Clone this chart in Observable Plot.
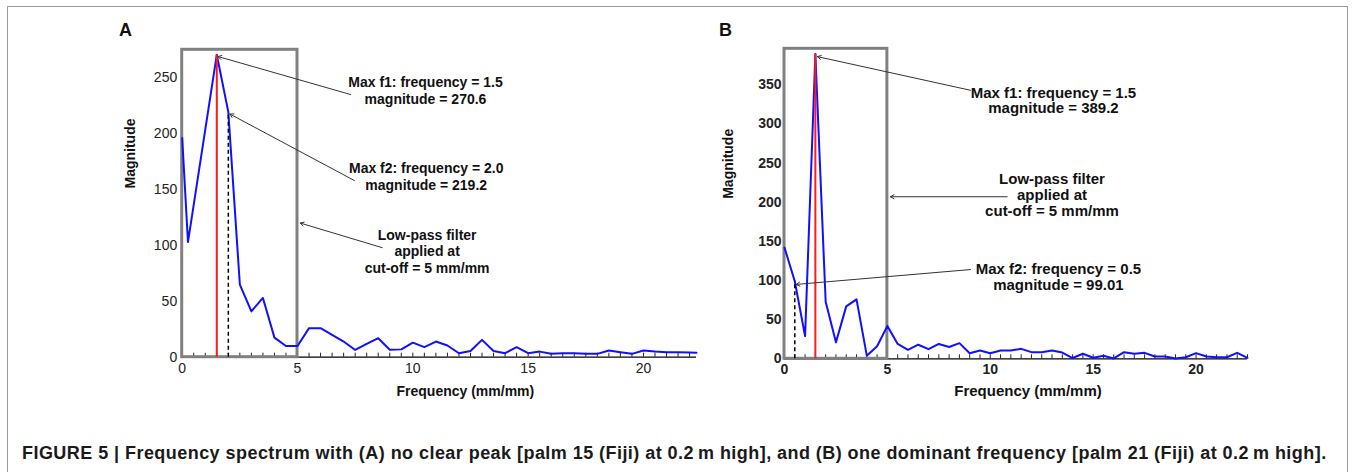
<!DOCTYPE html>
<html>
<head>
<meta charset="utf-8">
<script src="https://cdn.jsdelivr.net/npm/d3@7"></script>
<script src="https://cdn.jsdelivr.net/npm/@observablehq/plot@0.6"></script>
<style>
  body { margin: 0; background: #fff; }
  #fig { position: relative; width: 1355px; height: 472px; font-family: "Liberation Sans", Arial, sans-serif; overflow: hidden; }
  #border { position: absolute; left: 7px; top: 6px; width: 1341px; height: 470px; border: 1px solid #9a9a9a; box-sizing: border-box; }
  .panel { position: absolute; font-weight: bold; font-size: 18px; color: #111; }
  #caption { position: absolute; left: 22px; top: 443px; font-weight: bold; font-size: 18px; letter-spacing: 0.45px; color: #1a1a1a; white-space: nowrap; }
  svg { position: absolute; overflow: visible; }
</style>
</head>
<body>
<div id="fig">
  <div id="border"></div>
  <div class="panel" style="left:119px;top:20px;">A</div>
  <div class="panel" style="left:719px;top:20px;">B</div>
  <div id="caption">FIGURE 5 | Frequency spectrum with (A) no clear peak [palm 15 (Fiji) at 0.2&#8201;m high], and (B) one dominant frequency [palm 21 (Fiji) at 0.2&#8201;m high].</div>
</div>
<script>
// ---------- data ----------
const freqA = [0, 0.25, 1.5, 2.0, 2.5, 3.0, 3.5, 4.0, 4.5, 5.0, 5.5, 6.0, 6.5, 7.0, 7.5, 8.0, 8.5, 9.0, 9.5, 10.0,
  10.5, 11.0, 11.5, 12.0, 12.5, 13.0, 13.5, 14.0, 14.5, 15.0, 15.5, 16.0, 16.5, 17.0, 17.5, 18.0, 18.5, 19.0, 19.5,
  20.0, 20.5, 21.0, 21.5, 22.0, 22.3];
const magA = [196, 103, 270.6, 219.2, 65, 41, 53, 17.5, 10, 10, 26, 26, 20, 14, 6.5, 12, 17, 6.6, 7, 13,
  9, 14, 10.5, 3.5, 5.5, 15.5, 5.5, 3.6, 9, 3.6, 5, 3, 3.6, 3.6, 3, 3, 6, 4.5, 3,
  6, 5, 4.5, 4.5, 4.2, 4];

const freqB = [0, 0.5, 1.0, 1.5, 2.0, 2.5, 3.0, 3.5, 4.0, 4.5, 5.0, 5.5, 6.0, 6.5, 7.0, 7.5, 8.0, 8.5, 9.0, 9.5,
  10.0, 10.5, 11.0, 11.5, 12.0, 12.5, 13.0, 13.5, 14.0, 14.5, 15.0, 15.5, 16.0, 16.5, 17.0, 17.5, 18.0, 18.5, 19.0,
  19.5, 20.0, 20.5, 21.0, 21.5, 22.0, 22.5];
const magB = [142, 99.01, 29, 389.2, 73, 21, 67, 76, 4, 16, 42, 19, 11.5, 18, 12.3, 19, 15, 20, 7.2, 10.6,
  7.2, 10.6, 10.6, 12.7, 8.5, 8.5, 10.6, 8, 1, 6.4, 1.3, 3.8, 0.5, 8.5, 6.4, 7.6, 3, 3, 0.5,
  2, 7.2, 3, 2, 2, 7.6, 1.3];

const peaksA = {f1: 1.5, m1: 270.6, f2: 2.0, m2: 219.2};
const peaksB = {f1: 1.5, m1: 389.2, f2: 0.5, m2: 99.01};
const cutoff = 5;

const xTickLabels = [0, 5, 10, 15, 20];
const yTicksA = [0, 50, 100, 150, 200, 250];
const yTicksB = [0, 50, 100, 150, 200, 250, 300, 350];

const xTitle = "Frequency (mm/mm)";
const yTitle = "Magnitude";

const notesA = [
  "Max f1: frequency = 1.5\nmagnitude = 270.6",
  "Max f2: frequency = 2.0\nmagnitude = 219.2",
  "Low-pass filter\napplied at\ncut-off = 5 mm/mm"
];
const notesB = [
  "Max f1: frequency = 1.5\nmagnitude = 389.2",
  "Low-pass filter\napplied at\ncut-off = 5 mm/mm",
  "Max f2: frequency = 0.5\nmagnitude = 99.01"
];

// ---------- layout (annotation placement, in data units of each panel) ----------
const layoutA = {
  text: [{x: 10.55, y: 239}, {x: 10.58, y: 162}, {x: 10.62, y: 95}],
  arrows: [
    {x1: 7.3, y1: 235, x2: 1.55, y2: 269},
    {x1: 7.47, y1: 158, x2: 2.07, y2: 217.5},
    {x1: 8.67, y1: 98, x2: 5.12, y2: 120}
  ]
};
const layoutB = {
  text: [{x: 13.07, y: 330}, {x: 13.0, y: 209}, {x: 13.31, y: 105}],
  arrows: [
    {x1: 9.04, y1: 343, x2: 1.6, y2: 386},
    {x1: 10.82, y1: 207, x2: 5.15, y2: 207},
    {x1: 9.04, y1: 114, x2: 0.57, y2: 95}
  ]
};

function panel(cfg) {
  const series = cfg.freq.map((f, i) => ({f, m: cfg.mag[i]}));
  const minor = d3.range(0.5, cfg.xMax + 0.001, 0.5);
  const notes = cfg.notes.map((t, i) => ({text: t, ...cfg.layout.text[i]}));
  const box = [{x1: 0, x2: cutoff, y1: 0, y2: cfg.yMax}];
  const p = cfg.peaks;
  const tickFont = {fontSize: cfg.tickSize, fontWeight: cfg.tickWeight, fill: "#222"};
  return Plot.plot({
    width: cfg.width, height: cfg.height,
    marginLeft: cfg.ml, marginRight: cfg.mr, marginTop: cfg.mt, marginBottom: cfg.mb,
    style: {fontFamily: "'Liberation Sans', Arial, sans-serif", background: "transparent", overflow: "visible"},
    x: {domain: [0, cfg.xMax]},
    y: {domain: [0, cfg.yMax]},
    marks: [
      Plot.ruleY([0], {stroke: "#000", strokeWidth: 1.2}),
      Plot.ruleX(minor, {x: d => d, y1: 0, y2: 0, insetBottom: 4, stroke: "#222", strokeWidth: 1}),
      Plot.rect(box, {x1: "x1", x2: "x2", y1: "y1", y2: "y2", fill: "none", stroke: "#808080", strokeWidth: 3}),
      Plot.line(series, {x: "f", y: "m", stroke: "#1010ff", strokeWidth: 2}),
      Plot.ruleX([p], {x: "f1", y1: 0, y2: "m1", stroke: "#ff1a1a", strokeWidth: 2}),
      Plot.ruleX([p], {x: "f2", y1: 0, y2: "m2", stroke: "#000", strokeWidth: 1.5, strokeDasharray: "4,3"}),
      Plot.arrow(cfg.layout.arrows, {x1: "x1", y1: "y1", x2: "x2", y2: "y2", stroke: "#333", strokeWidth: 1, headLength: 6}),
      Plot.text(notes, {x: "x", y: "y", text: "text", fontSize: cfg.noteSize, fontWeight: "bold", lineHeight: cfg.noteLH, fill: "#111"}),
      Plot.axisY(cfg.yTicks, {tickSize: 0, tickPadding: cfg.yPad, label: null, ...tickFont}),
      Plot.axisX(xTickLabels, {tickSize: 0, tickPadding: cfg.xPad, label: null, ...tickFont}),
      Plot.text([xTitle], {frameAnchor: "bottom", lineAnchor: "middle", dx: cfg.xtDx, dy: cfg.xtDy, fontSize: cfg.titleSize, fontWeight: "bold", fill: "#111"}),
      Plot.text([yTitle], {frameAnchor: "left", lineAnchor: "middle", rotate: -90, dx: cfg.ytDx, dy: cfg.ytDy, fontSize: 14, fontWeight: "bold", fill: "#111"})
    ]
  });
}

const svgA = panel({
  freq: freqA, mag: magA, peaks: peaksA, notes: notesA, layout: layoutA,
  xMax: 22.3, yMax: 275, yTicks: yTicksA,
  width: 700, height: 400, ml: 181.7, mr: 4, mt: 49.3, mb: 43.3,
  tickSize: 14, tickWeight: "normal", yPad: 5, xPad: 6,
  noteSize: 14, noteLH: 1.2, titleSize: 14,
  xtDx: 26, xtDy: 34, ytDx: -52, ytDy: -15
});
svgA.style.left = "0px"; svgA.style.top = "0px";

const svgB = panel({
  freq: freqB, mag: magB, peaks: peaksB, notes: notesB, layout: layoutB,
  xMax: 22.5, yMax: 396, yTicks: yTicksB,
  width: 655, height: 400, ml: 84, mr: 108, mt: 48.3, mb: 41.7,
  tickSize: 14, tickWeight: "bold", yPad: 3, xPad: 5,
  noteSize: 15, noteLH: 1.05, titleSize: 15,
  xtDx: 12, xtDy: 32.4, ytDx: -56, ytDy: -5
});
svgB.style.left = "700px"; svgB.style.top = "0px";

document.getElementById("fig").append(svgA, svgB);
</script>
</body>
</html>
